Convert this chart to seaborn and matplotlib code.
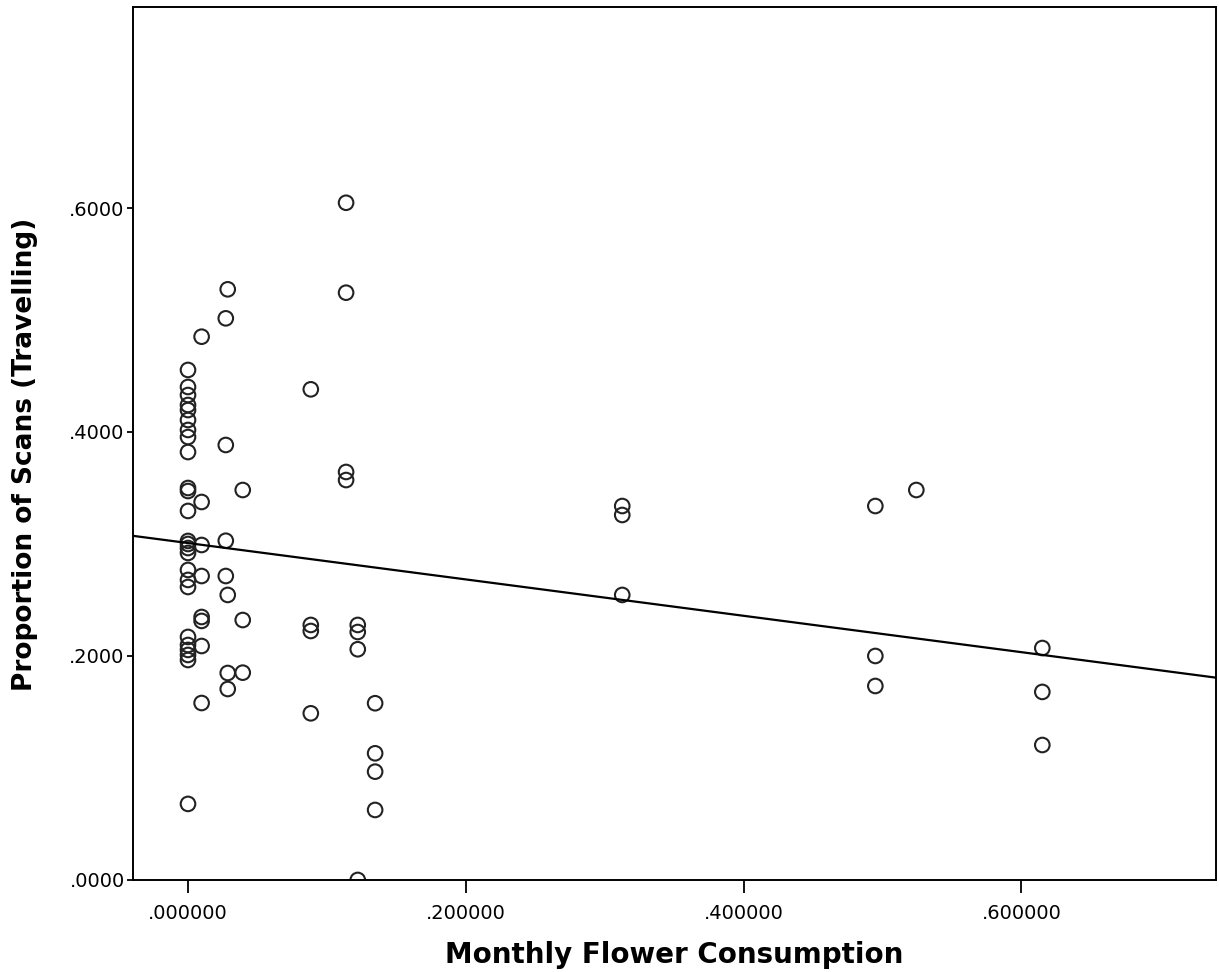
#!/usr/bin/env python3
import numpy as np
import pandas as pd
import matplotlib
matplotlib.use("Agg")
import matplotlib.pyplot as plt
from matplotlib.ticker import FuncFormatter
import seaborn as sns

# Monthly flower consumption (x) and proportion of scans travelling (y)
flower = [
    0.0, 0.0, 0.0, 0.0, 0.0, 0.0, 0.0, 0.0, 0.0, 0.0, 0.0, 0.0, 0.0,
    0.0, 0.0, 0.0, 0.0, 0.0, 0.0, 0.0, 0.0, 0.0, 0.0, 0.0, 0.0,
    0.0098, 0.0098, 0.0098, 0.0098, 0.0098, 0.0098, 0.0098, 0.0098,
    0.0286, 0.0272, 0.0272, 0.0272, 0.0272, 0.0286, 0.0286, 0.0286,
    0.0394, 0.0394, 0.0394,
    0.0884, 0.0884, 0.0884, 0.0884,
    0.1138, 0.1138, 0.1138, 0.1138,
    0.1222, 0.1222, 0.1222, 0.1222,
    0.1347, 0.1347, 0.1347, 0.1347,
    0.3126, 0.3126, 0.3126,
    0.4948, 0.4948, 0.4948,
    0.5243,
    0.6150, 0.6150, 0.6150,
]
travelling = [
    0.4554, 0.4402, 0.4330, 0.4241, 0.4196, 0.4107, 0.4018, 0.3955, 0.3821,
    0.3500, 0.3473, 0.3295, 0.3027, 0.3000, 0.2964, 0.2920, 0.2768, 0.2679,
    0.2616, 0.2170, 0.2098, 0.2054, 0.2009, 0.1964, 0.0679,
    0.4851, 0.3375, 0.2991, 0.2714, 0.2348, 0.2313, 0.2089, 0.1580,
    0.5274, 0.5015, 0.3884, 0.3029, 0.2714, 0.2545, 0.1848, 0.1705,
    0.3482, 0.2321, 0.1851,
    0.4381, 0.2277, 0.2223, 0.1488,
    0.6047, 0.5244, 0.3643, 0.3571,
    0.2277, 0.2214, 0.2060, 0.0,
    0.1578, 0.1131, 0.0967, 0.0625,
    0.3339, 0.3259, 0.2545,
    0.3339, 0.2000, 0.1732,
    0.3482,
    0.2071, 0.1679, 0.1205,
]

x_ticks = [0.0, 0.2, 0.4, 0.6]
y_ticks = [0.0, 0.2, 0.4, 0.6]

df = pd.DataFrame({"flower": flower, "travelling": travelling})

sns.set_style("ticks")
plt.rcParams["font.family"] = ["DejaVu Sans"]
plt.rcParams.update({
    "text.color": "black",
    "axes.labelcolor": "black",
    "xtick.color": "black",
    "ytick.color": "black",
})

fig = plt.figure(figsize=(12.19, 9.72), dpi=100)
ax = fig.add_axes([0.1091, 0.0947, 0.8884, 0.8981])
ax.set_xlim(-0.0396, 0.740)
ax.set_ylim(0, 0.7795)

# scatter of open circles
sns.scatterplot(data=df, x="flower", y="travelling", ax=ax, s=110,
                facecolors="none", edgecolor="#222222", linewidth=1.5,
                legend=False)
# fit line across the full axis width
sns.regplot(data=df, x="flower", y="travelling", ax=ax, scatter=False,
            ci=None, truncate=False, color="black", line_kws={"linewidth": 1.6})

ax.set_xlim(-0.0396, 0.740)
ax.set_ylim(0, 0.7795)
ax.set_xticks(x_ticks)
ax.set_yticks(y_ticks)


def strip_zero(fmt):
    def f(v, pos):
        s = format(v, fmt)
        return s[1:] if s.startswith("0") else s
    return f


ax.xaxis.set_major_formatter(FuncFormatter(strip_zero(".6f")))
ax.yaxis.set_major_formatter(FuncFormatter(strip_zero(".4f")))
ax.tick_params(axis="x", length=9, width=1.3, labelsize=14, pad=8)
ax.tick_params(axis="y", length=4, width=1.3, labelsize=14, pad=2)

for sp in ax.spines.values():
    sp.set_color("black")
    sp.set_linewidth(1.4)

ax.set_xlabel("Monthly Flower Consumption", fontsize=20, fontweight="bold", labelpad=13)
ax.set_ylabel("Proportion of Scans (Travelling)", fontsize=19, fontweight="bold")
ax.yaxis.set_label_coords(-0.088, 0.487)

fig.savefig("out.png", dpi=100)
